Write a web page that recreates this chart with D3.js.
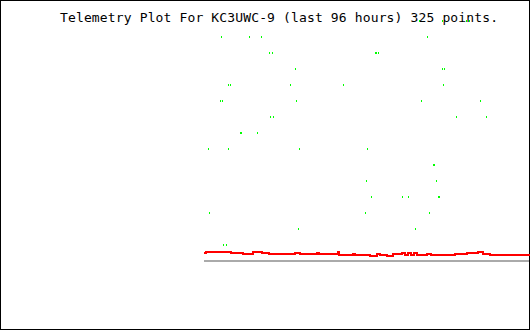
<!DOCTYPE html>
<html>
<head>
<meta charset="utf-8">
<script src="https://cdn.jsdelivr.net/npm/d3@7"></script>
<style>
  body { margin: 0; background: #fff; }
</style>
</head>
<body>
<svg id="chart" width="530" height="330"></svg>
<script>
// Titulo
const titulo = 'Telemetry Plot For KC3UWC-9 (last 96 hours) 325 points.'

// Puntos verdes: horas atras y nivel (fila)
const puntosHoras = [
  32.7, 25.9, 18.8, 18.05,
  91.08, 82.84, 79.36, 79.07, 30.2,
  76.8, 76.0, 45.6, 45.3, 44.7,
  69.3, 25.8, 25.2,
  88.9, 88.3, 70.7, 55.2, 25.5,
  91.4, 90.6, 69.0, 32.0, 14.6,
  76.6, 75.8, 21.7, 12.9,
  85.5, 85.2, 80.3,
  94.7, 88.8, 67.9, 47.9,
  28.6, 28.3,
  48.2, 27.6,
  46.7, 37.7, 35.9, 27.1, 26.8,
  94.4, 48.5, 29.7,
  68.2, 33.9,
  90.3, 89.4
]
const puntosNivel = [
  15, 15, 15, 15,
  14, 14, 14, 14, 14,
  13, 13, 13, 13, 13,
  12, 12, 12,
  11, 11, 11, 11, 11,
  10, 10, 10, 10, 10,
  9, 9, 9, 9,
  8, 8, 8,
  7, 7, 7, 7,
  6, 6,
  5, 5,
  4, 4, 4, 4, 4,
  3, 3, 3,
  2, 2,
  1, 1
]

// Linea roja: horas atras y nivel
const lineaHoras = [
  96.0, 95.4, 88.0, 84.5, 81.6, 78.9, 76.9, 69.2, 67.7, 62.7, 62.1,
  56.5, 56.2, 52.1, 51.5, 47.1, 45.1, 44.2, 42.1, 40.3, 37.7, 36.8,
  35.9, 35.0, 34.2, 33.3, 30.3, 29.2, 22.1, 18.6, 15.3, 13.8, 11.8, 0
]
const lineaNivel = [
  0.50, 0.54, 0.49, 0.43, 0.58, 0.48, 0.42, 0.50, 0.44, 0.52, 0.44,
  0.59, 0.36, 0.42, 0.36, 0.33, 0.43, 0.36, 0.34, 0.43, 0.47, 0.39,
  0.47, 0.39, 0.48, 0.36, 0.43, 0.36, 0.43, 0.51, 0.59, 0.43, 0.36, 0.36
]

// Linea base gris
const baseNivel = [0, 0]
const baseHoras = [96, 0]

const svg = d3.select('#chart')

// Escalas
const x = d3.scaleLinear()
    .domain([96, 0])
    .range([204, 530])

const y = d3.scaleLinear()
    .domain([0, 16])
    .range([261, 5])

// Borde
svg.append('rect')
    .attr('x', 0.5)
    .attr('y', 0.5)
    .attr('width', 529)
    .attr('height', 329)
    .attr('fill', '#fff')
    .attr('stroke', '#000')

// Titulo
svg.append('text')
    .text(titulo)
    .attr('x', 60)
    .attr('y', 22)
    .attr('textLength', 438)
    .attr('font-family', 'DejaVu Sans Mono, monospace')
    .attr('font-size', '13px')
    .attr('fill', '#000')

// Base gris
svg.append('line')
    .attr('x1', x(baseHoras[0]))
    .attr('x2', x(baseHoras[1]) - 1)
    .attr('y1', y(baseNivel[0]))
    .attr('y2', y(baseNivel[1]))
    .attr('stroke', '#aaaaaa')
    .attr('stroke-width', 2)

// Linea roja
const linea = d3.line()
    .x((d, i) => x(lineaHoras[i]))
    .y(d => y(d))
    .curve(d3.curveStepAfter)

svg.append('path')
    .datum(lineaNivel)
    .attr('d', linea)
    .attr('fill', 'none')
    .attr('stroke', '#ff0000')
    .attr('stroke-width', 2)
    .attr('shape-rendering', 'crispEdges')

// Puntos verdes
svg.selectAll('.dot')
    .data(puntosHoras)
    .join('rect')
    .attr('class', 'dot')
    .attr('x', d => Math.round(x(d)))
    .attr('y', (d, i) => y(puntosNivel[i]) - 1)
    .attr('width', 1)
    .attr('height', 2)
    .attr('fill', '#00ff00')
    .attr('shape-rendering', 'crispEdges')
</script>
</body>
</html>
